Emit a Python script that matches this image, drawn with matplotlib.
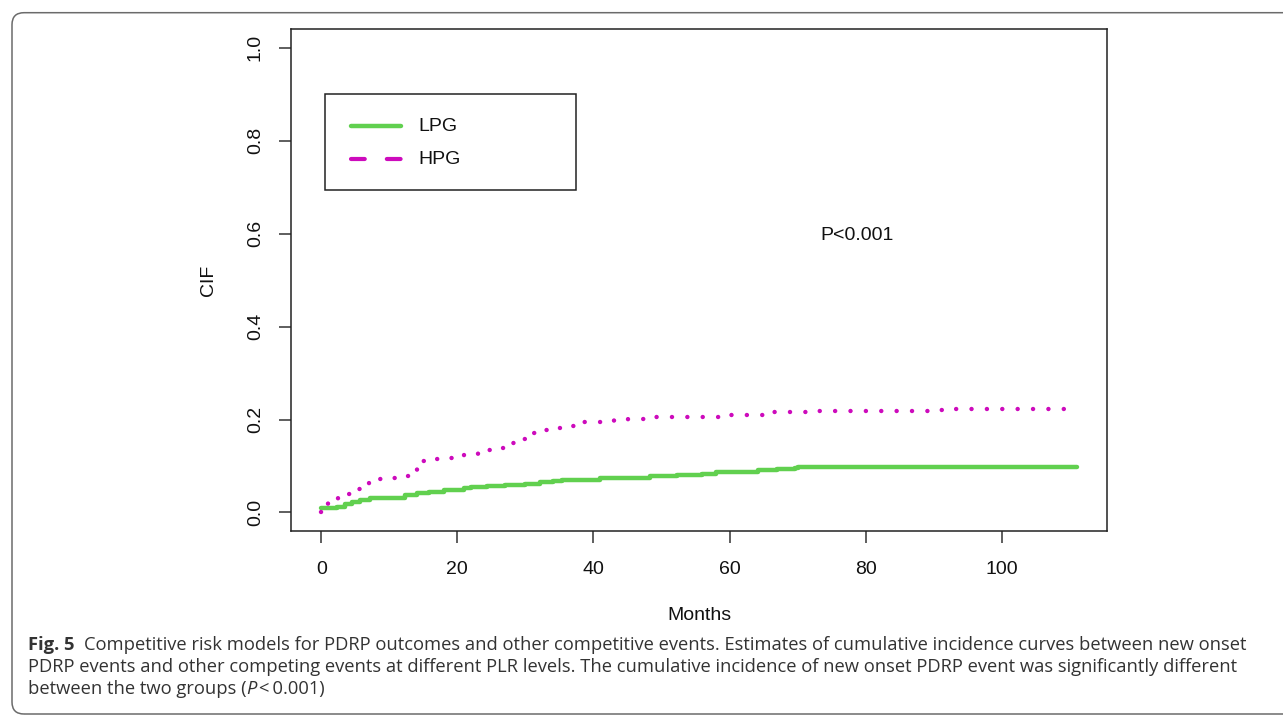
import matplotlib
matplotlib.use("Agg")
import matplotlib.pyplot as plt
from matplotlib.patches import FancyBboxPatch, Rectangle

# cumulative incidence steps (months, CIF)
lpg_time = [0, 2.3, 3.5, 4.5, 5.7, 7.2, 12.3, 14, 15.8, 18, 21, 22, 24.3, 27,
            30, 32.2, 34, 35.3, 41, 48.3, 52.2, 56, 58, 64.2, 67, 69.6, 70.1, 111]
lpg_cif = [0.009, 0.012, 0.019, 0.0215, 0.026, 0.032, 0.0366, 0.041, 0.0445,
           0.048, 0.052, 0.054, 0.0566, 0.059, 0.062, 0.0645, 0.067, 0.070,
           0.0738, 0.0774, 0.080, 0.083, 0.0875, 0.091, 0.094, 0.096, 0.098, 0.098]

hpg_time = [0, 1, 2.4, 4, 5.5, 7, 8.5, 10.5, 12.5, 14, 15, 17, 19, 21, 23, 24.5,
            26.5, 28, 29.5, 31, 33, 35, 37, 38.5, 43, 45, 47, 49, 60, 66, 73,
            90.5, 93, 110]
hpg_cif = [0.0, 0.020, 0.033, 0.039, 0.050, 0.064, 0.072, 0.075, 0.079, 0.094,
           0.110, 0.114, 0.118, 0.123, 0.128, 0.135, 0.138, 0.149, 0.159, 0.170,
           0.177, 0.182, 0.186, 0.194, 0.199, 0.201, 0.202, 0.206, 0.209, 0.2165,
           0.219, 0.2215, 0.223, 0.223]

x_ticks = [0, 20, 40, 60, 80, 100]
y_ticks = [0.0, 0.2, 0.4, 0.6, 0.8, 1.0]
y_ticklabels = ["0.0", "0.2", "0.4", "0.6", "0.8", "1.0"]

GREEN = "#61D04F"
MAGENTA = "#CD0BBC"
W, H = 1283, 715

plt.rcParams['font.family'] = ['Liberation Sans', 'DejaVu Sans']

fig = plt.figure(figsize=(W / 100, H / 100), dpi=100)
fig.patch.set_facecolor('white')

# rounded frame of the journal figure box (runs off the right edge)
frame = FancyBboxPatch((0.12, 0.01), 20.0, 7.023 - 0.01,
                       boxstyle="round,pad=0,rounding_size=0.12",
                       transform=fig.dpi_scale_trans, fill=False,
                       edgecolor='#6b6b6b', linewidth=1.1, clip_on=False)
fig.add_artist(frame)

ax = fig.add_axes([291 / W, (H - 531) / H, (1107 - 291) / W, (531 - 29.3) / H])

ax.step(lpg_time, lpg_cif, where='post', color=GREEN, lw=3.2,
        solid_capstyle='round', solid_joinstyle='round')
ax.step(hpg_time, hpg_cif, where='post', color=MAGENTA, lw=3.2,
        linestyle=(0, (0.01, 3.45)), dash_capstyle='round')

ax.set_xlim(-0.04 * 111, 111 * 1.04)
ax.set_ylim(-0.04, 1.04)
ax.set_xticks(x_ticks)
ax.set_xticklabels([str(v) for v in x_ticks])
ax.set_yticks(y_ticks)
ax.set_yticklabels(y_ticklabels, rotation=90, va='center')

for s in ax.spines.values():
    s.set_color('#222222')
    s.set_linewidth(1.1)
ax.tick_params(axis='both', direction='out', length=8.6, width=1.1,
               color='#333333', labelsize=14, labelcolor='#111111')
ax.tick_params(axis='x', pad=13)
ax.tick_params(axis='y', pad=11)

ax.set_xlabel("Months", fontsize=14, color='#111111')
ax.xaxis.set_label_coords(0.5, (531 - 616) / (531 - 29.3))
ax.xaxis.label.set_va('center')
ax.set_ylabel("CIF", fontsize=14, color='#111111')
ax.yaxis.set_label_coords((209 - 291) / (1107 - 291), 0.5)
ax.yaxis.label.set_va('center')

ax.text(78.7, 0.597, "P<0.001", fontsize=14, ha='center', va='center',
        color='#111111')

# legend drawn as in the R figure: solid / dashed keys in a plain box
bw, bh = 1107 - 291, 531 - 29.3
def ax_x(px):
    return (px - 291) / bw
def ax_y(py):
    return (531 - py) / bh

ax.add_patch(Rectangle((ax_x(325), ax_y(190)), ax_x(575.7) - ax_x(325),
                       ax_y(94.3) - ax_y(190), transform=ax.transAxes,
                       fill=False, edgecolor='#222222', lw=1.1))
ax.plot([ax_x(351), ax_x(401)], [ax_y(126)] * 2, transform=ax.transAxes,
        color=GREEN, lw=3.2, solid_capstyle='round')
ax.plot([ax_x(351), ax_x(401)], [ax_y(159)] * 2, transform=ax.transAxes,
        color=MAGENTA, lw=3.0, linestyle=(0, (3.3, 5.3)), dash_capstyle='round')
ax.text(ax_x(418), ax_y(126), "LPG", transform=ax.transAxes, fontsize=14,
        va='center', ha='left', color='#111111')
ax.text(ax_x(418), ax_y(159), "HPG", transform=ax.transAxes, fontsize=14,
        va='center', ha='left', color='#111111')

# caption
cap_font = ['Open Sans', 'DejaVu Sans']
cap_kw = dict(fontsize=13.2, family=cap_font, color='#333333', va='baseline')
x0 = 28 / W
renderer = fig.canvas.get_renderer()

def after(txt, gap=0):
    bb = txt.get_window_extent(renderer=renderer)
    return (bb.x1 + gap) / W

t1 = fig.text(x0, 1 - 650 / H, "Fig. 5", fontweight='bold', **cap_kw)
fig.text(after(t1, 9), 1 - 650 / H,
         "Competitive risk models for PDRP outcomes and other competitive events. "
         "Estimates of cumulative incidence curves between new onset", **cap_kw)
fig.text(x0, 1 - 672 / H,
         "PDRP events and other competing events at different PLR levels. "
         "The cumulative incidence of new onset PDRP event was significantly different",
         **cap_kw)
t3 = fig.text(x0, 1 - 694 / H, "between the two groups (", **cap_kw)
t4 = fig.text(after(t3), 1 - 694 / H, "P", style='italic', **cap_kw)
fig.text(after(t4, 2), 1 - 694 / H, "<\u20090.001)", **cap_kw)

fig.savefig("out.png", dpi=100)
